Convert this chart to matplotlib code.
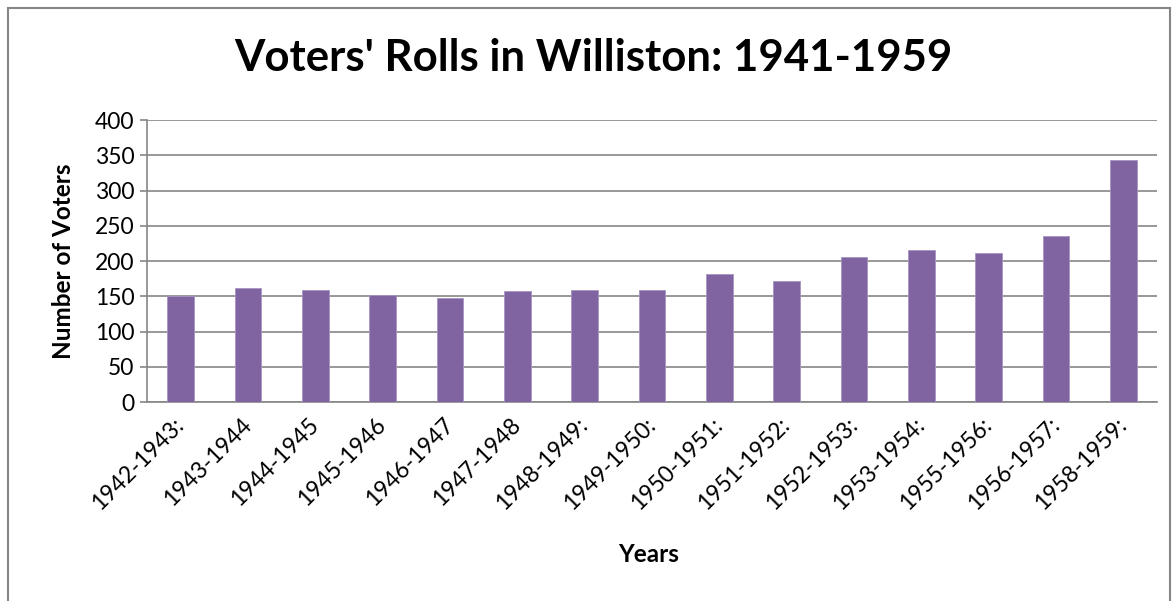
import matplotlib.pyplot as plt
from matplotlib.patches import Rectangle
import numpy as np

# Data
years = ["1942-1943:", "1943-1944", "1944-1945", "1945-1946", "1946-1947",
         "1947-1948", "1948-1949:", "1949-1950:", "1950-1951:", "1951-1952:",
         "1952-1953:", "1953-1954:", "1955-1956:", "1956-1957:", "1958-1959:"]
voters = [150, 162, 159, 152, 147, 157, 159, 159, 181, 172, 205, 216, 211, 236, 343]

plt.rcParams['font.family'] = ['Lato', 'DejaVu Sans']

fig = plt.figure(figsize=(11.75, 6.01), dpi=100)
ax = fig.add_axes([147 / 1175, 0.3311, 1010 / 1175, 0.4692])

x = np.arange(len(years))
ax.bar(x, voters, width=0.4, color='#8064A2', edgecolor='#A795C0', linewidth=0.6, zorder=3)

ax.set_xlim(-0.5, len(years) - 0.5)
ax.set_ylim(0, 400)
ax.set_yticks(np.arange(0, 401, 50))
ax.yaxis.grid(True, color='#868686', linewidth=1.2, zorder=0)
ax.set_axisbelow(True)

ax.set_xticks(x)
ax.set_xticklabels(years, rotation=45, ha='right', va='center',
                   rotation_mode='anchor', fontsize=16.5)
ax.tick_params(axis='x', length=0, pad=14)
ax.tick_params(axis='y', length=5, color='#868686', width=1.2, labelsize=16.5, pad=4)

for side in ['top', 'right']:
    ax.spines[side].set_visible(False)
for side in ['left', 'bottom']:
    ax.spines[side].set_color('#868686')
    ax.spines[side].set_linewidth(1.2)

ax.set_ylabel('Number of Voters', fontsize=17.5, fontweight='bold', labelpad=14)
fig.text(0.552, 0.077, 'Years', fontsize=17.5, fontweight='bold', ha='center', va='center')
fig.text(0.505, 0.903, "Voters' Rolls in Williston: 1941-1959", fontsize=31.5,
         fontweight='bold', ha='center', va='center')

# outer chart border
fig.patches.append(Rectangle((8 / 1175, -0.05), 1162 / 1175, 1.05 - 8 / 601,
                             transform=fig.transFigure, fill=False,
                             edgecolor='#868686', linewidth=1.5))

fig.savefig('out.png', dpi=100)
